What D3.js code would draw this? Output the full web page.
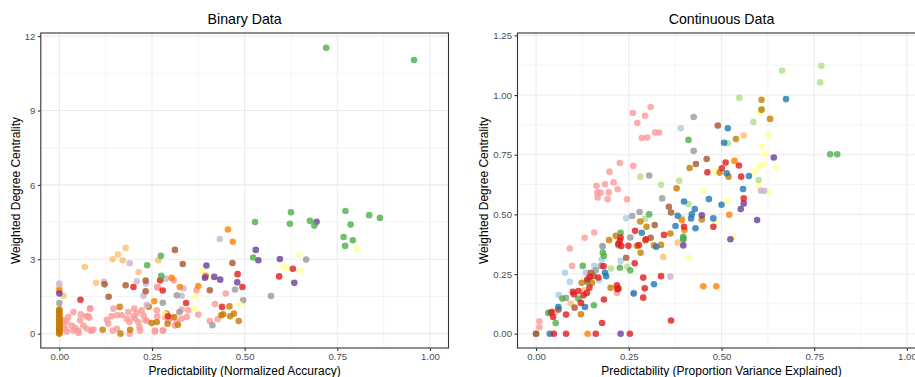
<!DOCTYPE html>
<html>
<head>
<meta charset="utf-8">
<script src="https://cdn.jsdelivr.net/npm/d3@7"></script>
<style>
  html, body { margin: 0; padding: 0; background: #fff; }
  svg { display: block; font-family: "Liberation Sans", Arial, sans-serif; }
</style>
</head>
<body>
<svg id="chart" width="915" height="377"></svg>
<script>
// ---- Palette, one colour per node group ----
const groupNames = ["pink", "red", "green", "purple", "blue", "lightblue", "lightgreen",
  "orange", "lightorange", "lightpurple", "yellow", "brown", "grey", "gold"];
const groupColors = ["#FB9A99", "#E41A1C", "#4DAF4A", "#6A3D9A", "#1F78B4", "#A6CEE3", "#B2DF8A",
  "#FF7F00", "#FDBF6F", "#CAB2D6", "#FFFF99", "#A65628", "#999999", "#C97A00"];

// ---- Axis ticks ----
const binaryXTicks = [0, 0.25, 0.5, 0.75, 1];
const binaryYTicks = [0, 3, 6, 9, 12];
const contXTicks = [0, 0.25, 0.5, 0.75, 1];
const contYTicks = [0, 0.25, 0.5, 0.75, 1, 1.25];

// ---- Binary data: [predictability, centrality] per group ----
const binaryPink = [[0.038,0.87],[0.058,0.78],[0.072,0.70],[0.081,0.64],[0.083,1.01],[0.024,0.67],[0.02,0.47],
  [0.033,0.33],[0.042,0.24],[0.038,0.13],[0.051,0.13],[0.056,0.54],[0.065,0.33],[0.074,0.20],[0.087,0.13],
  [0.092,0.17],[0.128,0.56],[0.132,0.40],[0.141,0.70],[0.156,0.74],[0.146,1.01],[0.155,0.20],[0.144,0.13],
  [0.168,0.74],[0.182,0.60],[0.186,0.87],[0.189,0.47],[0.20,0.70],[0.202,1.01],[0.204,0.60],[0.209,0.83],
  [0.213,0.47],[0.216,0.27],[0.222,0.94],[0.227,0.74],[0.231,0.56],[0.237,0.51],[0.218,0.13],[0.258,0.13],
  [0.263,0.94],[0.264,0.70],[0.264,1.88],[0.279,0.13],[0.285,0.67],[0.294,0.54],[0.303,0.64],[0.312,0.33],
  [0.317,0.47],[0.33,0.60],[0.33,0.97],[0.344,0.67],[0.348,0.94],[0.37,1.75],[0.375,0.77],[0.42,1.19],
  [0.406,0.51],[0.427,0.58],[0.449,1.62],[0.266,1.86],[0.309,2.15],[0.258,0.09],[0.28,0.13],[0.19,0.0],
  [0.052,0.03],[0.02,0.09],[0.086,0.13],[0.078,0.70],[0.083,1.02],[0.01,0.35],[0.012,0.55],[0.015,0.2]];
const binaryRed = [[0.481,2.40],[0.494,1.88],[0.593,2.31],[0.63,2.62],[0.272,2.15],[0.279,1.74],[0.20,1.88],
  [0.057,1.37],[0.342,1.24],[0.439,1.08],[0.293,0.70]];
const binaryGreen = [[0.72,11.53],[0.957,11.04],[0.528,4.50],[0.625,4.90],[0.622,4.43],[0.676,4.55],[0.688,4.36],
  [0.772,4.95],[0.786,4.40],[0.836,4.78],[0.865,4.67],[0.767,3.90],[0.792,3.77],[0.771,3.54],[0.523,3.07],
  [0.274,3.14],[0.237,2.76],[0.275,2.33]];
const binaryPurple = [[0.694,4.51],[0.53,3.38],[0.537,2.96],[0.595,3.01],[0.634,2.05],[0.397,2.75],[0.393,2.26],
  [0.418,2.29],[0.434,2.18],[0.48,2.07],[0.0,1.62]];
const binaryOrange = [[0.455,4.20],[0.468,3.71],[0.303,2.25],[0.325,1.88],[0.375,1.92],[0.395,2.33],[0.256,1.31],
  [0.0,1.75]];
const binaryLightOrange = [[0.179,3.46],[0.158,3.19],[0.144,3.00],[0.171,2.96],[0.069,2.69],[0.214,2.49],
  [0.267,2.96],[0.099,2.05],[0.011,1.53],[0.0,1.88]];
const binaryLightPurple = [[0.433,3.82],[0.19,2.84],[0.12,2.09],[0.209,2.11],[0.234,2.02],[0.227,1.53],
  [0.287,2.22],[0.335,1.83],[0.33,1.53],[0.236,1.16],[0.0,2.02]];
const binaryBrown = [[0.312,3.38],[0.333,2.81],[0.467,2.85],[0.233,2.14],[0.233,1.71],[0.179,1.95],[0.122,1.99],
  [0.133,1.49],[0.406,1.75]];
const binaryGrey = [[0.666,2.99],[0.571,1.52],[0.496,1.35],[0.474,1.78],[0.317,1.55],[0.279,1.25],[0.324,0.87],
  [0.413,0.34],[0.0,1.24]];
const binaryYellow = [[0.647,3.19],[0.803,3.42],[0.604,2.69],[0.613,2.65],[0.651,2.56],[0.386,2.53],[0.367,1.48],
  [0.364,1.02],[0.486,1.18],[0.285,0.78]];
const binaryGold = [[0,0],[0,0.04],[0,0.08],[0,0.13],[0,0.18],[0,0.22],[0,0.27],[0,0.32],[0,0.37],[0,0.42],
  [0,0.48],[0,0.54],[0,0.6],[0,0.66],[0,0.72],[0,0.78],[0,0.85],[0,0.92],[0,0.98],
  [0.117,0.16],[0.165,0.0],[0.163,1.08],[0.191,0.16],[0.241,1.09],[0.249,0.43],[0.263,0.47],[0.289,0.81],
  [0.292,0.40],[0.31,0.67],[0.32,0.36],[0.437,0.74],[0.442,0.78],[0.459,1.10],[0.461,0.70],[0.471,0.81],
  [0.484,0.51]];

// ---- Continuous data: [predictability, centrality] per group ----
const contLightGreen = [[0.663,1.103],[0.769,1.123],[0.766,1.053],[0.548,0.988],[0.586,0.887],[0.608,0.94],
  [0.281,0.658],[0.337,0.624],[0.386,0.641],[0.411,0.543],[0.294,0.481],[0.202,0.273],[0.246,0.28],
  [0.60,0.644],[0.393,0.483],[0.517,0.798]];
const contGreen = [[0.793,0.752],[0.812,0.752],[0.411,0.812],[0.305,0.50],[0.228,0.423],[0.18,0.34],[0.183,0.326],
  [0.126,0.284],[0.226,0.276],[0.254,0.266],[0.138,0.217],[0.156,0.119],[0.053,0.045],[0.033,0.087],
  [0.071,0.147],[0.114,0.147],[0.397,0.406],[0.397,0.395],[0.222,0.371]];
const contBlue = [[0.674,0.983],[0.517,0.861],[0.507,0.80],[0.514,0.672],[0.574,0.661],[0.558,0.606],[0.466,0.564],
  [0.50,0.54],[0.399,0.554],[0.428,0.522],[0.382,0.494],[0.42,0.50],[0.418,0.483],[0.376,0.451],[0.43,0.442],
  [0.478,0.483],[0.285,0.423],[0.324,0.364],[0.186,0.255],[0.189,0.241],[0.318,0.207],[0.263,0.168],
  [0.132,0.112],[0.06,0.112],[0.037,0.0],[0.397,0.40]];
const contLightBlue = [[0.39,0.861],[0.243,0.484],[0.18,0.364],[0.177,0.311],[0.228,0.305],[0.157,0.284],
  [0.078,0.255],[0.091,0.217],[0.061,0.162],[0.17,0.224]];
const contPink = [[0.309,0.95],[0.294,0.913],[0.261,0.925],[0.273,0.883],[0.285,0.82],[0.30,0.822],[0.321,0.843],
  [0.332,0.843],[0.226,0.715],[0.262,0.703],[0.198,0.679],[0.209,0.634],[0.186,0.626],[0.163,0.62],
  [0.165,0.591],[0.174,0.591],[0.196,0.592],[0.22,0.605],[0.166,0.571],[0.193,0.563],[0.245,0.563],
  [0.157,0.424],[0.131,0.402],[0.091,0.357],[0.097,0.284],[0.009,0.052],[0.009,0.027],[0.051,0.091],
  [0.218,0.171]];
const contRed = [[0.511,0.717],[0.501,0.693],[0.547,0.705],[0.553,0.658],[0.462,0.676],[0.56,0.567],[0.478,0.448],
  [0.399,0.448],[0.267,0.431],[0.228,0.403],[0.249,0.368],[0.277,0.371],[0.345,0.414],[0.296,0.396],
  [0.226,0.389],[0.222,0.377],[0.23,0.367],[0.266,0.295],[0.289,0.235],[0.337,0.241],[0.293,0.19],
  [0.289,0.151],[0.218,0.203],[0.22,0.186],[0.183,0.143],[0.178,0.045],[0.364,0.055],[0.182,0.283],
  [0.168,0.235],[0.145,0.238],[0.138,0.227],[0.144,0.193],[0.128,0.161],[0.137,0.171],[0.121,0.129],
  [0.099,0.175],[0.102,0.165],[0.114,0.179],[0.081,0.08],[0.046,0.07],[0.042,0.091],[0.048,0.0],
  [0.081,0.0],[0.161,0.0],[0.253,0.0]];
const contOrange = [[0.535,0.724],[0.393,0.476],[0.40,0.434],[0.521,0.498],[0.451,0.199],[0.486,0.199],[0.139,0.0]];
const contLightOrange = [[0.56,0.83],[0.382,0.382],[0.343,0.321],[0.094,0.126],[0.129,0.182]];
const contPurple = [[0.641,0.738],[0.596,0.476],[0.552,0.522],[0.56,0.546],[0.447,0.496],[0.524,0.396],
  [0.397,0.37],[0.228,0.0]];
const contLightPurple = [[0.606,0.599],[0.615,0.599],[0.362,0.239],[0.264,0.171],[0.135,0.255]];
const contYellow = [[0.603,0.928],[0.626,0.834],[0.608,0.784],[0.618,0.753],[0.647,0.696],[0.601,0.704],
  [0.614,0.711],[0.589,0.679],[0.483,0.682],[0.45,0.598],[0.515,0.556],[0.601,0.616],[0.626,0.591],
  [0.483,0.468],[0.532,0.406],[0.412,0.319]];
const contGold = [[0.608,0.98],[0.608,0.938],[0.631,0.90],[0.539,0.816],[0.414,0.694],[0.495,0.675],[0.519,0.658],
  [0.379,0.609],[0.362,0.42],[0.281,0.47],[0.298,0.448],[0.295,0.391],[0.318,0.37],[0.337,0.372],
  [0.272,0.368],[0.282,0.339],[0.447,0.479],[0.197,0.392],[0.215,0.41],[0.201,0.192],[0.123,0.213],
  [0.151,0.213],[0.121,0.081],[0.223,0.189]];
const contBrown = [[0.49,0.872],[0.46,0.732],[0.431,0.711],[0.358,0.532],[0.364,0.508],[0.32,0.455],[0.309,0.402],
  [0.243,0.318],[0.155,0.242],[0.148,0.255],[0.104,0.109],[0.061,0.101],[0.0,0.0],[0.22,0.189]];
const contGrey = [[0.425,0.908],[0.425,0.766],[0.305,0.663],[0.34,0.567],[0.279,0.51],[0.259,0.493],[0.254,0.403],
  [0.179,0.367],[0.175,0.284],[0.161,0.266],[0.081,0.15],[0.038,0.087],[0.0,0.0]];

function rows(groupData) {
  const out = [];
  groupData.forEach(([name, pts]) => pts.forEach(([x, y]) => out.push({ group: name, x, y })));
  return out;
}
const binaryRows = rows([["pink", binaryPink], ["gold", binaryGold], ["lightorange", binaryLightOrange],
  ["lightpurple", binaryLightPurple], ["grey", binaryGrey], ["yellow", binaryYellow], ["brown", binaryBrown],
  ["orange", binaryOrange], ["red", binaryRed], ["purple", binaryPurple], ["green", binaryGreen]]);
const contRows = rows([["pink", contPink], ["lightblue", contLightBlue], ["lightgreen", contLightGreen],
  ["yellow", contYellow], ["lightorange", contLightOrange], ["lightpurple", contLightPurple], ["grey", contGrey],
  ["gold", contGold], ["brown", contBrown], ["blue", contBlue], ["green", contGreen], ["orange", contOrange],
  ["purple", contPurple], ["red", contRed]]);

const color = d3.scaleOrdinal().domain(groupNames).range(groupColors);
const svg = d3.select("#chart");

function panel(opts) {
  const { left, right, top, bottom, xDomain, yDomain, xTicks, yTicks, fmtX, fmtY, data, title, xTitle, clipId } = opts;
  const x = d3.scaleLinear().domain(xDomain).range([left, right]);
  const y = d3.scaleLinear().domain(yDomain).range([bottom, top]);
  const g = svg.append("g");

  g.append("clipPath").attr("id", clipId).append("rect")
    .attr("x", left).attr("y", top).attr("width", right - left).attr("height", bottom - top);
  const body = g.append("g").attr("clip-path", `url(#${clipId})`);

  // minor grid
  const mid = t => t.slice(0, -1).map((v, i) => (v + t[i + 1]) / 2);
  const minorX = mid(xTicks).concat([xTicks[xTicks.length - 1] + (xTicks[1] - xTicks[0]) / 2]).filter(v => v < xDomain[1]);
  const minorY = mid(yTicks).concat([yTicks[yTicks.length - 1] + (yTicks[1] - yTicks[0]) / 2]).filter(v => v < yDomain[1]);
  body.selectAll(".mx").data(minorX).join("line")
    .attr("x1", d => x(d)).attr("x2", d => x(d)).attr("y1", top).attr("y2", bottom)
    .attr("stroke", "#EBEBEB").attr("stroke-width", 0.55);
  body.selectAll(".my").data(minorY).join("line")
    .attr("y1", d => y(d)).attr("y2", d => y(d)).attr("x1", left).attr("x2", right)
    .attr("stroke", "#EBEBEB").attr("stroke-width", 0.55);
  // major grid
  body.selectAll(".gx").data(xTicks).join("line")
    .attr("x1", d => x(d)).attr("x2", d => x(d)).attr("y1", top).attr("y2", bottom)
    .attr("stroke", "#EBEBEB").attr("stroke-width", 1.1);
  body.selectAll(".gy").data(yTicks).join("line")
    .attr("y1", d => y(d)).attr("y2", d => y(d)).attr("x1", left).attr("x2", right)
    .attr("stroke", "#EBEBEB").attr("stroke-width", 1.1);

  // points
  body.selectAll("circle").data(data).join("circle")
    .attr("cx", d => x(d.x)).attr("cy", d => y(d.y)).attr("r", 3.3)
    .attr("fill", d => color(d.group)).attr("fill-opacity", 0.8);

  // border
  g.append("rect").attr("x", left).attr("y", top).attr("width", right - left).attr("height", bottom - top)
    .attr("fill", "none").attr("stroke", "#333333").attr("stroke-width", 1.1);

  // axes
  const xa = g.append("g").attr("transform", `translate(0,${bottom})`)
    .call(d3.axisBottom(x).tickValues(xTicks).tickFormat(fmtX).tickSizeInner(3).tickSizeOuter(0).tickPadding(2.5));
  const ya = g.append("g").attr("transform", `translate(${left},0)`)
    .call(d3.axisLeft(y).tickValues(yTicks).tickFormat(fmtY).tickSizeInner(3).tickSizeOuter(0).tickPadding(2.5));
  [xa, ya].forEach(a => {
    a.select(".domain").remove();
    a.selectAll(".tick line").attr("stroke", "#333333").attr("stroke-width", 1.1);
    a.selectAll(".tick text").attr("fill", "#4D4D4D").style("font-size", "9.6px")
      .style("font-family", '"Liberation Sans", Arial, sans-serif');
  });

  const cx = (left + right) / 2;
  g.append("text").attr("x", cx).attr("y", 24).attr("text-anchor", "middle")
    .style("font-size", "14.2px").attr("fill", "#000").text(title);
  g.append("text").attr("x", cx).attr("y", 374.5).attr("text-anchor", "middle")
    .style("font-size", "12px").attr("fill", "#000").text(xTitle);
  g.append("text").attr("transform", `translate(${opts.yTitleX},${(top + bottom) / 2}) rotate(-90)`)
    .attr("text-anchor", "middle").style("font-size", "12px").attr("fill", "#000")
    .text("Weighted Degree Centrality");
}

panel({
  left: 40.8, right: 448.5, top: 33, bottom: 348,
  xDomain: [-0.05, 1.05], yDomain: [-0.578, 12.128],
  xTicks: binaryXTicks, yTicks: binaryYTicks,
  fmtX: d3.format(".2f"), fmtY: d3.format("d"),
  data: binaryRows, title: "Binary Data", xTitle: "Predictability (Normalized Accuracy)",
  yTitleX: 20, clipId: "clipA"
});
panel({
  left: 517.5, right: 925.5, top: 33, bottom: 348,
  xDomain: [-0.05, 1.05], yDomain: [-0.06, 1.26],
  xTicks: contXTicks, yTicks: contYTicks,
  fmtX: d3.format(".2f"), fmtY: d3.format(".2f"),
  data: contRows, title: "Continuous Data", xTitle: "Predictability (Proportion Variance Explained)",
  yTitleX: 488, clipId: "clipB"
});
</script>
</body>
</html>
